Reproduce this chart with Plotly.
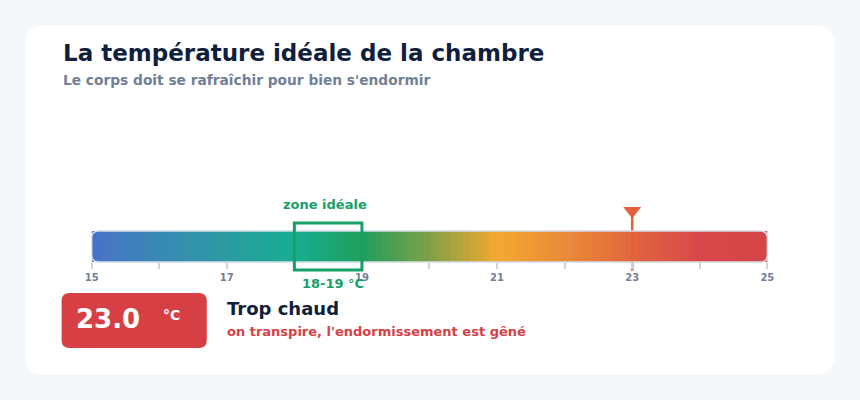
import plotly.graph_objects as go
import numpy as np

# data
temp_min, temp_max = 15, 25
tick_vals = list(range(15, 26))
tick_text = [str(v) if v % 2 == 1 else "" for v in tick_vals]
ideal_low, ideal_high = 18, 19
current_temp = 23.0
status_title = "Trop chaud"
status_text = "on transpire, l'endormissement est gêné"

# colour stops of the scale (temperature, colour)
stop_temps = [15, 16, 17, 18, 19, 20, 21, 22, 23, 24, 25]
stop_colors = ["#4a72c9", "#3888b4", "#2c9ba3", "#17ae90", "#1f9f5d", "#80a048",
               "#f2a830", "#ea8b38", "#e1663e", "#d8474a", "#d64545"]

W, H = 860, 400
NAVY = "#0f1f3d"
GREY = "#718096"
GREEN = "#16a067"
ORANGE = "#e4603a"
RED = "#d64045"
FONT = "DejaVu Sans"

# the snapshot comes out a bit narrower around the centre, so spread x a little
K = 0.9827


def px(x):
    return (430 + (x - 430) / K) / W


def py(y):
    return 1 - y / H


# gradient strip
xs = np.arange(temp_min + 0.05, temp_max, 0.1)
cscale = [[(t - temp_min) / (temp_max - temp_min), c] for t, c in zip(stop_temps, stop_colors)]

fig = go.Figure()
fig.add_trace(go.Heatmap(
    x=xs, y=[0.5], z=[xs], dy=1,
    colorscale=cscale, zmin=temp_min, zmax=temp_max,
    showscale=False, hoverinfo="skip", zsmooth=False,
))

# current temperature marker
fig.add_trace(go.Scatter(
    x=[current_temp, current_temp], y=[-0.28, 1.55], mode="lines",
    line=dict(color=ORANGE, width=2.5), hoverinfo="skip", showlegend=False,
))
fig.add_trace(go.Scatter(
    x=[current_temp], y=[1.65], mode="markers",
    marker=dict(symbol="triangle-down", size=15.5, color=ORANGE, line=dict(width=0)),
    hoverinfo="skip", showlegend=False,
))


def rounded(x0, y0, x1, y1, rx, ry):
    return (f"M {x0+rx},{y0} L {x1-rx},{y0} Q {x1},{y0} {x1},{y0+ry} "
            f"L {x1},{y1-ry} Q {x1},{y1} {x1-rx},{y1} L {x0+rx},{y1} "
            f"Q {x0},{y1} {x0},{y1-ry} L {x0},{y0+ry} Q {x0},{y0} {x0+rx},{y0} Z")


shapes = []
# page card
shapes.append(dict(type="path", xref="paper", yref="paper", layer="below",
                   path=rounded(px(26), py(374), px(834), py(26), 18/W, 18/H),
                   fillcolor="white", line=dict(width=0)))
# outline of the strip
rx = 7 / 67.5
ry = 7 / 31
shapes.append(dict(type="path", xref="x", yref="y",
                   path=rounded(temp_min, 0, temp_max, 1, rx, ry),
                   line=dict(color="#d3dbe7", width=1.5)))
# ideal zone
shapes.append(dict(type="rect", xref="x", yref="y",
                   x0=ideal_low, x1=ideal_high, y0=-0.26, y1=1.26,
                   line=dict(color=GREEN, width=3), fillcolor="rgba(0,0,0,0)"))
# status box
shapes.append(dict(type="path", xref="paper", yref="paper",
                   path=rounded(px(62), py(348), px(207), py(293), 8/W, 8/H),
                   fillcolor=RED, line=dict(width=0)))

annotations = [
    dict(text="La température idéale de la chambre", x=px(61), y=py(53),
         xref="paper", yref="paper", xanchor="left", yanchor="middle", showarrow=False,
         font=dict(family=FONT, size=23, color=NAVY, weight="bold")),
    dict(text="Le corps doit se rafraîchir pour bien s'endormir", x=px(61), y=py(80),
         xref="paper", yref="paper", xanchor="left", yanchor="middle", showarrow=False,
         font=dict(family=FONT, size=13.75, color=GREY, weight="bold")),
    dict(text="zone idéale", x=(ideal_low + ideal_high) / 2, y=1.87, xshift=-3,
         xref="x", yref="y", showarrow=False, yanchor="middle",
         font=dict(family=FONT, size=13, color=GREEN, weight="bold")),
    dict(text=f"{ideal_low}-{ideal_high} °C", x=(ideal_low + ideal_high) / 2, y=-0.68, xshift=5,
         xref="x", yref="y", showarrow=False, yanchor="middle",
         font=dict(family=FONT, size=13, color=GREEN, weight="bold")),
    dict(text=f"{current_temp:.1f}", x=px(74), y=py(319),
         xref="paper", yref="paper", xanchor="left", yanchor="middle", showarrow=False,
         font=dict(family=FONT, size=26, color="white", weight="bold")),
    dict(text="°C", x=px(161), y=py(315),
         xref="paper", yref="paper", xanchor="left", yanchor="middle", showarrow=False,
         font=dict(family=FONT, size=14, color="white", weight="bold")),
    dict(text=status_title, x=px(225), y=py(308),
         xref="paper", yref="paper", xanchor="left", yanchor="middle", showarrow=False,
         font=dict(family=FONT, size=18, color=NAVY, weight="bold")),
    dict(text=status_text, x=px(225), y=py(331),
         xref="paper", yref="paper", xanchor="left", yanchor="middle", showarrow=False,
         font=dict(family=FONT, size=13, color=RED, weight="bold")),
]

fig.update_layout(
    width=W, height=H,
    margin=dict(l=0, r=0, t=0, b=0),
    paper_bgcolor="#f5f8fb",
    plot_bgcolor="rgba(0,0,0,0)",
    showlegend=False,
    shapes=shapes,
    annotations=annotations,
    xaxis=dict(
        domain=[px(92), px(767)], range=[temp_min, temp_max],
        anchor="free", position=py(262),
        tickvals=tick_vals, ticktext=tick_text,
        ticks="outside", ticklen=6, tickwidth=1.5, tickcolor="#cbd5e1",
        showgrid=False, zeroline=False, showline=False,
        tickfont=dict(family=FONT, size=10, color=GREY, weight="bold"),
        fixedrange=True,
    ),
    yaxis=dict(
        domain=[py(290), py(200)], range=[-0.9032, 2.0],
        visible=False, fixedrange=True,
    ),
)

fig.write_html(
    "out.html",
    config={"displayModeBar": False},
    post_script=("document.body.style.margin='0';"
                 "document.body.style.overflow='hidden';"
                 "document.documentElement.style.overflow='hidden';"),
)
